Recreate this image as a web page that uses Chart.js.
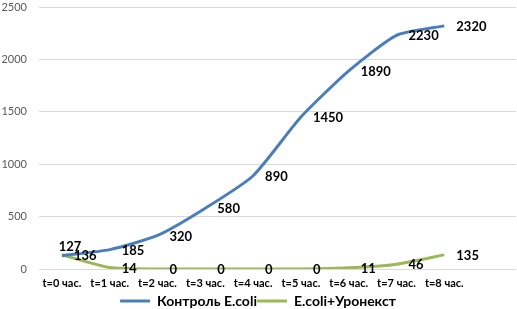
<!DOCTYPE html>
<html>
<head>
<meta charset="utf-8">
<script src="https://cdn.jsdelivr.net/npm/chart.js@4/dist/chart.umd.min.js"></script>
<style>
  html, body { margin: 0; padding: 0; background: #fff; }
  #wrap { width: 517px; height: 309px; position: relative; }
</style>
</head>
<body>
<div id="wrap"><canvas id="c"></canvas></div>
<script>
const categories = ['t=0 час.', 't=1 час.', 't=2 час.', 't=3 час.', 't=4 час.', 't=5 час.', 't=6 час.', 't=7 час.', 't=8 час.'];
const controlValues = [127, 185, 320, 580, 890, 1450, 1890, 2230, 2320];
const uronextValues = [136, 14, 0, 0, 0, 0, 11, 46, 135];
const seriesNames = ['Контроль E.coli', 'E.coli+Уронекст'];
const yTicks = [0, 500, 1000, 1500, 2000, 2500];

const BLUE = '#4A7EBB';
const GREEN = '#98B954';

const labelPlugin = {
  id: 'valueLabels',
  afterDatasetsDraw(chart) {
    const ctx = chart.ctx;
    ctx.save();
    ctx.font = 'bold 13px Lato, "Open Sans", sans-serif';
    ctx.fillStyle = '#000';
    chart.data.datasets.forEach((ds, di) => {
      const meta = chart.getDatasetMeta(di);
      meta.data.forEach((pt, i) => {
        const v = ds.data[i].y;
        const txt = String(v);
        if (di === 0 && i === 0) {
          ctx.textAlign = 'center';
          ctx.textBaseline = 'middle';
          ctx.fillText(txt, pt.x + 8, pt.y - 9);
        } else {
          ctx.textAlign = 'left';
          ctx.textBaseline = 'middle';
          ctx.fillText(txt, pt.x + 12, pt.y + 1);
        }
      });
    });
    ctx.restore();
  }
};

new Chart(document.getElementById('c'), {
  type: 'line',
  data: {
    datasets: [
      {
        label: seriesNames[0],
        data: controlValues.map((v, i) => ({ x: i, y: v })),
        borderColor: BLUE,
        backgroundColor: BLUE,
        borderWidth: 3,
        pointRadius: 0,
        tension: 0.2,
        fill: false
      },
      {
        label: seriesNames[1],
        data: uronextValues.map((v, i) => ({ x: i, y: v })),
        borderColor: GREEN,
        backgroundColor: GREEN,
        borderWidth: 3,
        pointRadius: 0,
        tension: 0.2,
        fill: false
      }
    ]
  },
  options: {
    responsive: true,
    maintainAspectRatio: false,
    animation: false,
    layout: { padding: { top: 0, right: 1, left: 0, bottom: -9 } },
    scales: {
      x: {
        type: 'linear',
        min: -0.48,
        max: 9.5,
        afterBuildTicks(scale) {
          scale.ticks = categories.map((c, i) => ({ value: i }));
        },
        afterFit(scale) {
          scale.height = 25;
        },
        ticks: {
          autoSkip: false,
          maxRotation: 0,
          padding: 8,
          color: '#000',
          font: { family: 'Lato, "Open Sans", sans-serif', size: 11, weight: 'bold' },
          callback: (v) => categories[v] !== undefined ? categories[v] : ''
        },
        grid: { display: false, drawTicks: false },
        border: { display: false }
      },
      y: {
        min: 0,
        max: 2500,
        afterBuildTicks(scale) {
          scale.ticks = yTicks.map(v => ({ value: v }));
        },
        afterFit(scale) {
          scale.width = 39;
          scale.paddingTop = 7;
          scale.paddingBottom = 7;
        },
        ticks: {
          padding: 12,
          color: '#595959',
          font: { family: 'Lato, "Open Sans", sans-serif', size: 11 },
          callback: (v) => String(v)
        },
        grid: { color: '#D9D9D9', lineWidth: 1, drawTicks: false },
        border: { display: false }
      }
    },
    plugins: {
      legend: {
        position: 'bottom',
        labels: {
          boxWidth: 30,
          boxHeight: 3,
          padding: 0,
          color: '#000',
          font: { family: 'Lato, "Open Sans", sans-serif', size: 14, weight: 'bold', lineHeight: 1 },
          generateLabels(chart) {
            return chart.data.datasets.map((ds, i) => ({
              text: ds.label,
              fillStyle: ds.borderColor,
              strokeStyle: ds.borderColor,
              lineWidth: 0,
              hidden: false,
              datasetIndex: i
            }));
          }
        }
      },
      tooltip: { enabled: false }
    }
  },
  plugins: [labelPlugin]
});
</script>
</body>
</html>
